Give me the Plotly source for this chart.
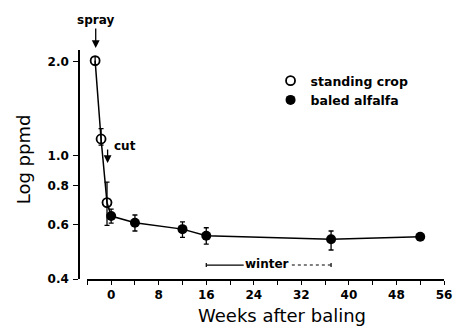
import math
import plotly.graph_objects as go

# Data
standing_weeks = [-2.7, -1.7, -0.7]
standing_ppmd = [2.02, 1.13, 0.705]
standing_err_plus = [0.06, 0.09, 0.115]
standing_err_minus = [0.06, 0.05, 0.11]

baled_weeks = [0, 4, 12, 16, 37, 52]
baled_ppmd = [0.638, 0.607, 0.579, 0.551, 0.537, 0.547]
baled_err_plus = [0.034, 0.036, 0.032, 0.034, 0.034, 0.01]
baled_err_minus = [0.033, 0.036, 0.034, 0.033, 0.041, 0.01]

winter_start, winter_end = 16, 37
spray_week = -2.6
cut_week = -0.6

x_tickvals = list(range(-4, 57, 4))
x_ticktext = [str(v) if v % 8 == 0 else "" for v in x_tickvals]
y_tickvals = [0.4, 0.6, 0.8, 1.0, 2.0]
y_ticktext = ["0.4", "0.6", "0.8", "1.0", "2.0"]

FONT = "DejaVu Sans"
BOLD = dict(family=FONT, size=12, color="black", weight="bold")

# page has an 8px body margin: compensate so the plot lands where the reference has it
PAGE_OFF = 8
W, H = 461 - PAGE_OFF, 329 - PAGE_OFF
PL, PR, PT, PB = 79, 452.5, 50, 279          # plot area in page pixels
PW, PH = PR - PL, PB - PT


def px_x(px):
    return (px - PL) / PW


def px_y(py):
    return (PB - py) / PH


fig = go.Figure()

fig.add_trace(go.Scatter(
    x=standing_weeks + baled_weeks,
    y=standing_ppmd + baled_ppmd,
    mode="lines",
    line=dict(color="black", width=1.5),
    showlegend=False, hoverinfo="skip",
))

fig.add_trace(go.Scatter(
    x=standing_weeks, y=standing_ppmd, mode="markers", name="standing crop",
    marker=dict(symbol="circle-open", size=9, color="black", line=dict(width=1.8)),
    error_y=dict(type="data", symmetric=False, array=standing_err_plus,
                 arrayminus=standing_err_minus, color="black", thickness=1.3, width=2.5),
))
fig.add_trace(go.Scatter(
    x=baled_weeks, y=baled_ppmd, mode="markers", name="baled alfalfa",
    marker=dict(symbol="circle", size=10, color="black"),
    error_y=dict(type="data", symmetric=False, array=baled_err_plus,
                 arrayminus=baled_err_minus, color="black", thickness=1.3, width=2.5),
))

# winter bar
winter_y = 0.4436
fig.add_shape(type="line", xref="x", yref="y", x0=winter_start, x1=22.3,
              y0=winter_y, y1=winter_y, line=dict(color="black", width=1.3))
fig.add_shape(type="line", xref="x", yref="y", x0=30.4, x1=winter_end,
              y0=winter_y, y1=winter_y, line=dict(color="black", width=1.1, dash="dot"))
for xe in (winter_start, winter_end):
    fig.add_shape(type="line", xref="x", yref="y", x0=xe, x1=xe,
                  y0=winter_y * 0.985, y1=winter_y * 1.015, line=dict(color="black", width=1.2))
fig.add_annotation(x=26.3, y=math.log10(winter_y) + 0.004, xref="x", yref="y", text="winter",
                   showarrow=False, font=BOLD, xanchor="center", yanchor="middle")

# spray arrow + label
fig.add_annotation(x=spray_week, y=px_y(48), xref="x", yref="paper", text="spray",
                   showarrow=True, arrowhead=2, arrowsize=1.2, arrowwidth=1.3,
                   arrowcolor="black", ax=0, ay=-28, font=BOLD, standoff=0)
# cut arrow + label
fig.add_annotation(x=cut_week, y=math.log10(0.945), xref="x", yref="y", text="",
                   showarrow=True, arrowhead=2, arrowsize=1.2, arrowwidth=1.3,
                   arrowcolor="black", ax=0, ay=-15)
fig.add_annotation(x=cut_week, y=math.log10(1.075), xref="x", yref="y", text="cut",
                   showarrow=False, xanchor="left", yanchor="middle", xshift=4, font=BOLD)

# axis titles
fig.add_annotation(x=px_x(287), y=px_y(315), xref="paper", yref="paper",
                   text="Weeks after baling", showarrow=False,
                   xanchor="center", yanchor="middle",
                   font=dict(family=FONT, size=18, color="black"))
fig.add_annotation(x=px_x(22), y=px_y(159), xref="paper", yref="paper",
                   text="Log ppmd", textangle=-90, showarrow=False,
                   xanchor="center", yanchor="middle",
                   font=dict(family=FONT, size=18, color="black"))

fig.update_layout(
    width=W, height=H,
    margin=dict(l=PL - PAGE_OFF, r=W - (PR - PAGE_OFF), t=PT - PAGE_OFF, b=H - (PB - PAGE_OFF)),
    paper_bgcolor="white", plot_bgcolor="white",
    font=dict(family=FONT, color="black"),
    xaxis=dict(range=[-4, 56], domain=[0.023, 1], showline=True, linecolor="black",
               linewidth=1.5, ticks="outside", ticklen=4, tickwidth=1.3, tickcolor="black",
               tickvals=x_tickvals, ticktext=x_ticktext, showgrid=False, zeroline=False,
               tickfont=BOLD),
    yaxis=dict(type="log", range=[-0.39794, 0.3396], anchor="free", position=0,
               showline=True, linecolor="black", linewidth=1.5, ticks="outside",
               ticklen=5, tickwidth=1.3, tickcolor="black", tickvals=y_tickvals,
               ticktext=y_ticktext, showgrid=False, zeroline=False, tickfont=BOLD,
               ticklabelstandoff=2),
    legend=dict(x=px_x(275), y=px_y(66), xanchor="left", yanchor="top",
                font=dict(family=FONT, size=12.5, color="black", weight="bold"),
                bgcolor="rgba(0,0,0,0)", tracegroupgap=0, itemwidth=30),
    showlegend=True,
)

fig.write_html("out.html")
